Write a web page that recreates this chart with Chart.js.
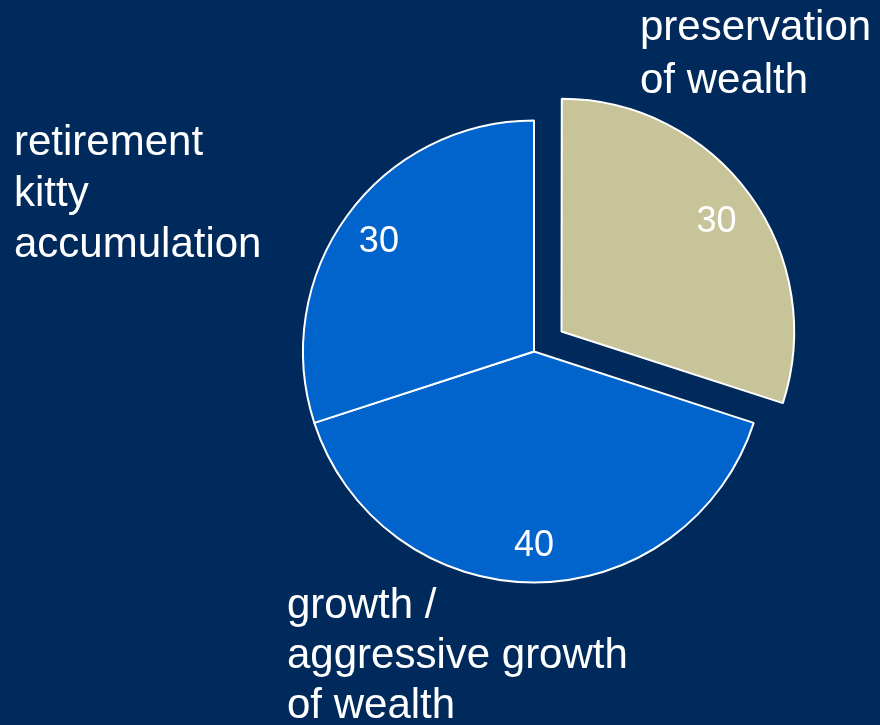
<!DOCTYPE html>
<html>
<head>
<meta charset="utf-8">
<title>Wealth objectives</title>
<script src="https://cdn.jsdelivr.net/npm/chart.js@4.4.1/dist/chart.umd.min.js"></script>
<style>
    html, body { margin: 0; padding: 0; background: #002a5c; }
    #wrap { width: 880px; height: 725px; }
</style>
</head>
<body>
<div id="wrap"><canvas id="pieChart" width="880" height="725"></canvas></div>
<script>
// Chart data
const categories = [
    ['preservation', 'of wealth'],
    ['growth /', 'aggressive growth', 'of wealth'],
    ['retirement', 'kitty', 'accumulation']
];
const shares = [30, 40, 30];
const sliceColors = ['#c8c49a', '#0064cc', '#0064cc'];
// Chart.js v4 moves an arc by offset / 4, so 136 -> ~34px pull-out
const sliceOffsets = [136, 0, 0];

// where the category captions sit (first baseline, left aligned)
const captionPos = [
    { x: 640, y: 40, lh: 53 },
    { x: 287, y: 618, lh: 50 },
    { x: 14, y: 155, lh: 51 }
];

// Plugin: value inside each slice + category captions outside
const pieLabels = {
    id: 'pieLabels',
    afterDatasetsDraw(chart) {
        const ctx = chart.ctx;
        const meta = chart.getDatasetMeta(0);
        ctx.save();
        ctx.fillStyle = '#ffffff';

        // values
        ctx.font = '36px "Liberation Sans", Arial, sans-serif';
        ctx.textAlign = 'center';
        ctx.textBaseline = 'middle';
        meta.data.forEach((arc, i) => {
            const mid = (arc.startAngle + arc.endAngle) / 2;
            const off = (arc.options.offset || 0) / 4;
            const r = arc.outerRadius * 0.83 + off;
            ctx.fillText(String(shares[i]), arc.x + Math.cos(mid) * r, arc.y + Math.sin(mid) * r + 3);
        });

        // captions
        ctx.font = '42px "Liberation Sans", Arial, sans-serif';
        ctx.textAlign = 'left';
        ctx.textBaseline = 'alphabetic';
        categories.forEach((lines, i) => {
            const p = captionPos[i];
            lines.forEach((line, j) => ctx.fillText(line, p.x, p.y + j * p.lh));
        });
        ctx.restore();
    }
};

const ctx = document.getElementById('pieChart');
const chart = new Chart(ctx, {
    type: 'pie',
    data: {
        labels: categories.map(c => c.join(' ')),
        datasets: [{
            data: shares,
            backgroundColor: sliceColors,
            borderColor: '#ffffff',
            borderWidth: 2,
            offset: sliceOffsets,
            radius: 231
        }]
    },
    options: {
        responsive: false,
        animation: false,
        layout: {
            padding: { left: 188, right: 0, top: 0, bottom: 22 }
        },
        plugins: {
            legend: { display: false },
            tooltip: { enabled: false }
        }
    },
    plugins: [pieLabels]
});
</script>
</body>
</html>
